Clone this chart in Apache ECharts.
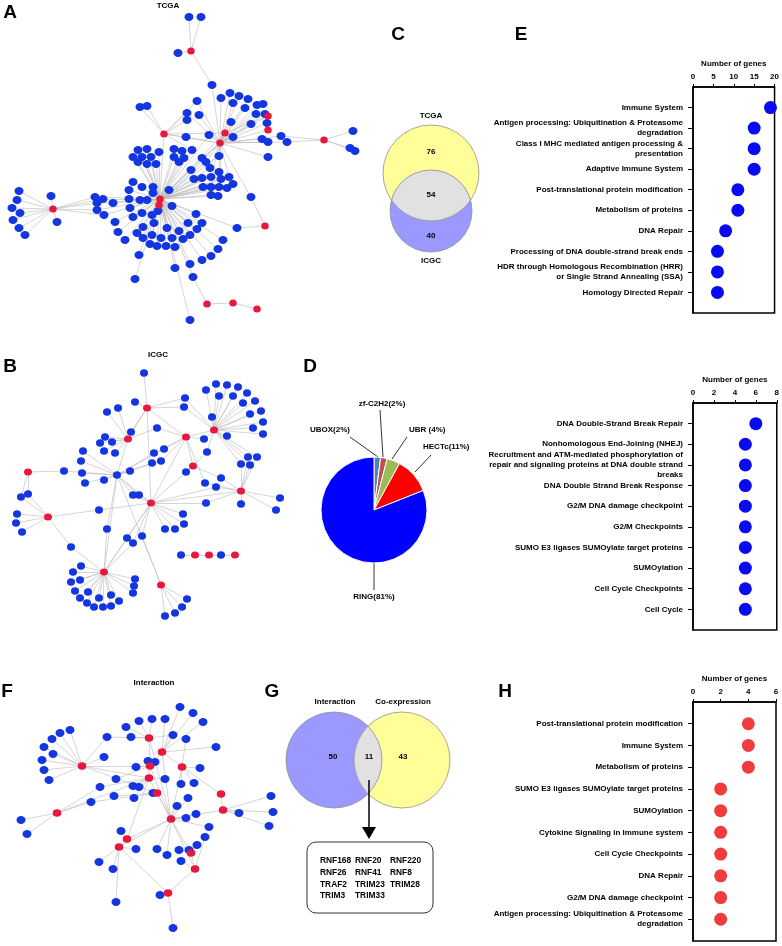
<!DOCTYPE html>
<html><head><meta charset="utf-8">
<script src="https://cdn.jsdelivr.net/npm/echarts@6/dist/echarts.min.js"></script>
<style>html,body{margin:0;padding:0;background:#fff}#c{width:782px;height:946px}</style>
</head><body><div id="c"></div>
<script>
// ---------------- DATA ----------------
// Network A (TCGA): hubs [x, y, isE3], leaves [x, y, hub indices...]
const hubsA = [[160,199,1],[159,205,1],[220,143,1],[225,133,1],[164,134,1],[191,51,1],[53,209,1],[265,226,1],[207,304,1],[233,303,1],[257,309,1],[268,116,1],[268,130,1],[324,140,1]];
const hubLinksA = [[0,1],[0,2],[0,3],[0,4],[1,2],[2,3],[2,4],[3,4],[2,11],[2,12],[3,11],[8,9],[9,10]];
const leavesA = [
 [189,17,5],[201,17,5],[178,53,5],[212,85,5,2],
 [140,107,4],[147,106,4],[187,113,4,2],[187,120,4],[186,137,4,2],[197,101,4,2],
 [221,98,2],[230,93,2],[239,96,2],[248,99,2],[233,103,2],[245,108,2],[257,105,2],[263,104,2],[256,114,2],[265,114,2],[267,123,2],[251,124,2],[231,122,2],[199,115,2],[209,135,2,0],[233,137,2],[262,139,2],[268,142,2],[268,157,2],[219,156,2,0],
 [281,136,2,13],[287,142,2,13],[353,131,13],[350,148,13],[355,151,13],
 [138,150,0],[147,149,0],[133,157,0],[142,157,0],[151,157,0],[159,152,0],[138,162,0],[147,164,0],[156,164,0],
 [174,149,0],[182,151,0],[192,150,0,4],[174,157,0],[184,158,0],[179,162,0],[202,158,0,2],
 [206,162,0,2],[210,168,0,2],[191,170,0],[202,178,0],[194,179,0],[211,177,0,2],[219,172,0,2],
 [221,179,0,2],[229,177,0,2],[233,184,0],[227,188,0],[219,187,0],[211,187,0],[203,187,0],[211,195,0],[218,196,0],
 [133,182,0],[129,190,0],[142,187,0],[153,187,0],[169,190,0],[153,193,0],
 [129,199,0],[140,200,0],[130,208,0],[172,206,0],[147,200,0],[142,213,0],[133,217,0],[158,211,0],[152,215,0],[196,214,0],
 [115,222,0],[113,203,0],[104,215,0,6],[95,197,0,6],[97,203,0,6],[97,210,0,6],[103,199,0,6],
 [118,232,0],[125,240,0],[143,227,0],[137,233,0],[143,238,0],[154,223,0],[152,235,0],[150,244,0],[157,246,0],[166,246,0],[161,238,0],[167,228,0],[172,238,0],[175,247,0],[179,231,0],[183,239,0],[190,235,0],[197,229,0],[188,223,0],[202,223,0],
 [223,240,0],[218,249,0],[211,256,0],[202,260,0],[190,264,0],[193,277,0,8],[175,268,0],[139,255,0],[135,279,0],[190,320,0],
 [237,228,0,7],[251,197,2,7],
 [19,191,6],[17,200,6],[12,208,6],[20,213,6],[13,220,6],[19,228,6],[25,235,6],[51,196,6],[57,222,6]
];
// Network B (ICGC)
const hubsB = [[147,408,1],[128,439,1],[186,437,1],[214,430,1],[193,466,1],[28,472,1],[151,503,1],[241,491,1],[48,517,1],[104,572,1],[161,585,1],[195,555,1],[209,555,1],[235,555,1],[117,475,0]];
const hubLinksB = [[0,1],[0,6],[1,14],[14,6],[14,9],[14,10],[2,4],[2,3],[4,6],[6,7],[6,9],[6,2],[11,12],[0,2]];
const leavesB = [
 [144,373,0],[135,402,0],[185,398,0,3],[184,407,0,3],[157,428,1,2],[107,412,1],[118,408,1],[131,432,1,0],
 [105,437,1],[100,443,1],[112,442,1],[104,451,1],[115,453,1],
 [83,451,14],[81,461,14],[82,473,14],[85,483,14],[104,480,14],[64,471,14,5],[130,471,14],[154,453,14,2],[152,463,14],[161,461,14,2],[164,449,14,2],[133,495,14,6],[139,495,14,6],
 [206,390,3],[216,384,3],[227,385,3],[238,387,3],[247,393,3],[255,401,3],[261,411,3],[263,422,3],[263,434,3],[253,428,3],[250,414,3],[243,403,3],[233,396,3],[219,396,3],[212,417,3],[227,436,3],[204,439,3,2],[207,452,3,4],
 [248,457,7,3],[257,457,7,3],[241,464,7,3],[250,465,7,3],[241,504,7],[280,498,7],[276,510,7],[221,478,7,4],[216,487,7,6],[205,483,7,2],
 [186,472,4],
 [206,503,6,7],[183,514,6],[184,524,6],[175,529,6],[165,529,6],[142,536,6,10],[127,538,6,9],[133,543,6,9],[99,510,6,8],[107,529,14,9],
 [21,497,8,5],[28,494,8,5],[17,514,8],[16,523,8],[22,532,8],[71,547,8,9],
 [81,566,9],[73,572,9],[71,582,9],[75,591,9],[80,598,9],[87,603,9],[94,607,9],[103,607,9],[111,606,9],[119,601,9],[111,595,9],[99,598,9],[88,592,9],[80,580,9],[135,579,9],[134,586,9],[133,593,9],
 [187,599,10],[182,607,10],[175,613,10],[165,616,10],
 [181,555,11],[221,555,12,13]
];
// Network F (Interaction)
const hubsF = [[82,766,1],[57,813,1],[149,738,1],[162,752,1],[150,766,1],[182,767,1],[149,778,1],[157,793,1],[221,794,1],[223,810,1],[171,819,1],[127,839,1],[119,847,1],[191,853,1],[195,869,1],[168,893,1]];
const hubLinksF = [[0,6],[0,7],[0,4],[1,6],[2,4],[3,4],[3,5],[3,10],[4,6],[4,10],[5,8],[5,10],[6,10],[6,11],[7,10],[8,9],[9,10],[10,11],[10,12],[10,13],[10,14],[11,12],[12,15],[13,14],[14,15],[2,10]];
const leavesF = [
 [70,730,0],[60,733,0],[52,739,0],[44,747,0],[53,754,0],[42,760,0],[44,770,0],[49,780,0],[104,757,0],[107,737,0,2],
 [21,820,1],[27,834,1],[91,802,1,7],[100,787,1,6],
 [180,707,3],[193,713,3],[203,722,3],[139,721,2],[152,719,2],[165,719,3],[126,727,2],[131,737,2],[173,735,3,2],[186,739,5],[216,747,3],
 [148,761,4],[155,762,4],[136,767,4],[116,779,4],[133,786,6],[139,787,6],[114,796,7],[134,798,6],[153,793,7],[165,779,6],[181,784,5],[194,783,5],[200,768,5],
 [177,806,10],[188,798,10],[196,814,10],[186,818,10],[209,827,10],[205,837,14],[121,831,11],[136,849,12],[157,849,10],[167,855,10],[179,850,13],[189,850,13],[197,845,13],[181,861,14],
 [99,862,12],[113,869,12],[160,895,15],[116,902,12],[173,928,15],
 [239,813,9],[271,796,9],[273,812,9],[269,826,9]
];
const netTitles = ['TCGA', 'ICGC', 'Interaction'];

// Venn C / G
const vennCSets = ['TCGA', 'ICGC'];
const vennCCounts = [76, 54, 40];
const vennGSets = ['Interaction', 'Co-expression'];
const vennGCounts = [50, 11, 43];
const sharedGenes = ['RNF168','RNF20','RNF220','RNF26','RNF41','RNF8','TRAF2','TRIM23','TRIM28','TRIM3','TRIM33'];

// Pie D
const pieNames = ['UBOX', 'zf-C2H2', 'UBR', 'HECTc', 'RING'];
const pieValues = [2, 2, 4, 11, 81];
const pieLabels = ['UBOX(2%)', 'zf-C2H2(2%)', 'UBR (4%)', 'HECTc(11%)', 'RING(81%)'];

// Dot plots
const eCats = ['Immune System','Antigen processing: Ubiquitination & Proteasome\ndegradation','Class I MHC mediated antigen processing &\npresentation','Adaptive Immune System','Post-translational protein modification','Metabolism of proteins','DNA Repair','Processing of DNA double-strand break ends','HDR through Homologous Recombination (HRR)\nor Single Strand Annealing (SSA)','Homology Directed Repair'];
const eVals = [19,15,15,15,11,11,8,6,6,6];
const e2Cats = ['DNA Double-Strand Break Repair','Nonhomologous End-Joining (NHEJ)','Recruitment and ATM-mediated phosphorylation of\nrepair and signaling proteins at DNA double strand\nbreaks','DNA Double Strand Break Response','G2/M DNA damage checkpoint','G2/M Checkpoints','SUMO E3 ligases SUMOylate target proteins','SUMOylation','Cell Cycle Checkpoints','Cell Cycle'];
const e2Vals = [6,5,5,5,5,5,5,5,5,5];
const hCats = ['Post-translational protein modification','Immune System','Metabolism of proteins','SUMO E3 ligases SUMOylate target proteins','SUMOylation','Cytokine Signaling in Immune system','Cell Cycle Checkpoints','DNA Repair','G2/M DNA damage checkpoint','Antigen processing: Ubiquitination & Proteasome\ndegradation'];
const hVals = [4,4,4,2,2,2,2,2,2,2];
const xMaxE = 20, xStepE = 5, xMaxE2 = 8, xStepE2 = 2, xMaxH = 6, xStepH = 2;

// ---------------- STYLE / BUILD ----------------
const FONT = '"Liberation Sans", Arial, Helvetica, sans-serif';
const BLUE = '#1336e0', RED = '#e8173c';

function buildNet(hubs, leaves, hubLinks, blueSize, redSize) {
  const nodes = [], links = [];
  leaves.forEach(l => nodes.push({value:[l[0], l[1]], symbolSize: blueSize, itemStyle:{color: BLUE}}));
  const off = leaves.length;
  hubs.forEach(h => nodes.push({value:[h[0], h[1]], symbolSize: h[2] ? redSize : blueSize, itemStyle:{color: h[2] ? RED : BLUE}}));
  leaves.forEach((l, i) => { for (let k = 2; k < l.length; k++) links.push({source: i, target: off + l[k]}); });
  hubLinks.forEach(p => links.push({source: off + p[0], target: off + p[1]}));
  return {
    type:'graph', coordinateSystem:'cartesian2d', xAxisIndex:0, yAxisIndex:0,
    layout:'none', symbol:'circle', data: nodes, links: links, silent:true,
    lineStyle:{color:'#b9b9b9', width:0.6, opacity:1, curveness:0},
    label:{show:false}, emphasis:{disabled:true}, z:2
  };
}

const gfx = [];
function txt(x, y, s, size, align, weight) {
  gfx.push({type:'text', x:x, y:y, silent:true, z:10,
    style:{text:s, font:(weight||'bold') + ' ' + size + 'px ' + FONT, fill:'#000',
      textAlign: align || 'center', align: align || 'center', textVerticalAlign:'middle', verticalAlign:'middle'}});
}
function lensPoints(c1, c2) {
  const pts = [], N = 720;
  for (let i = 0; i < N; i++) {
    const a = 2*Math.PI*i/N;
    const p1 = [c1[0] + c1[2]*Math.cos(a), c1[1] + c1[2]*Math.sin(a)];
    if (Math.hypot(p1[0]-c2[0], p1[1]-c2[1]) <= c2[2]) pts.push(p1);
    const p2 = [c2[0] + c2[2]*Math.cos(a), c2[1] + c2[2]*Math.sin(a)];
    if (Math.hypot(p2[0]-c1[0], p2[1]-c1[1]) <= c1[2]) pts.push(p2);
  }
  const cx = pts.reduce((s,p)=>s+p[0],0)/pts.length, cy = pts.reduce((s,p)=>s+p[1],0)/pts.length;
  pts.sort((p,q)=>Math.atan2(p[1]-cy,p[0]-cx)-Math.atan2(q[1]-cy,q[0]-cx));
  return pts;
}
function venn(cA, colA, cB, colB) {
  gfx.push({type:'circle', shape:{cx:cA[0], cy:cA[1], r:cA[2]}, style:{fill:colA}, silent:true, z:5});
  gfx.push({type:'circle', shape:{cx:cB[0], cy:cB[1], r:cB[2]}, style:{fill:colB}, silent:true, z:5});
  gfx.push({type:'polygon', shape:{points: lensPoints(cA, cB)}, style:{fill:'#e1e1e1'}, silent:true, z:6});
  gfx.push({type:'circle', shape:{cx:cA[0], cy:cA[1], r:cA[2]}, style:{fill:'none', stroke:'#8f8f8f', lineWidth:0.8}, silent:true, z:7});
  gfx.push({type:'circle', shape:{cx:cB[0], cy:cB[1], r:cB[2]}, style:{fill:'none', stroke:'#8f8f8f', lineWidth:0.8}, silent:true, z:7});
}

// panel letters
[['A',10,13],['B',10,367],['C',398,35],['D',310,367],['E',521,35],['F',7,692],['G',272,692],['H',505,692]]
  .forEach(l => txt(l[1], l[2], l[0], 19, 'center'));
// network titles
txt(168, 6, netTitles[0], 8); txt(158, 355, netTitles[1], 8); txt(154, 683, netTitles[2], 8);

// Venn C
venn([431,173,48], '#ffff99', [431,211,41], '#9999ff');
txt(431, 116, vennCSets[0], 8); txt(431, 261, vennCSets[1], 8);
txt(431, 152, String(vennCCounts[0]), 8); txt(431, 195, String(vennCCounts[1]), 8); txt(431, 236, String(vennCCounts[2]), 8);
// Venn G
venn([334,760,48], '#9999ff', [402,760,48], '#ffff99');
txt(335, 702, vennGSets[0], 8); txt(403, 702, vennGSets[1], 8);
txt(333, 757, String(vennGCounts[0]), 8); txt(369, 757, String(vennGCounts[1]), 8); txt(403, 757, String(vennGCounts[2]), 8);
gfx.push({type:'line', shape:{x1:369, y1:780, x2:369, y2:829}, style:{stroke:'#000', lineWidth:1.5}, silent:true, z:10});
gfx.push({type:'polygon', shape:{points:[[362,827],[376,827],[369,839]]}, style:{fill:'#000'}, silent:true, z:10});
gfx.push({type:'rect', shape:{x:307, y:842, width:126, height:71, r:9}, style:{fill:'none', stroke:'#333', lineWidth:1}, silent:true, z:10});
sharedGenes.forEach((gname, i) => {
  const col = i % 3, row = Math.floor(i / 3);
  txt(320 + col*35, 861 + row*11.6, gname, 8.4, 'left');
});

// dot plot helpers
function pad(c) { return [' '].concat(c, ['  ']); }
function xAx(gi, max, step) {
  return {gridIndex:gi, type:'value', position:'top', min:0, max:max, interval:step,
    name:'Number of genes', nameLocation:'middle', nameGap:19,
    nameTextStyle:{fontFamily:FONT, fontWeight:'bold', fontSize:8, color:'#000'},
    axisLine:{show:true, lineStyle:{color:'#000', width:1.5}},
    axisTick:{show:true, length:3, lineStyle:{color:'#000', width:1}},
    axisLabel:{fontFamily:FONT, fontWeight:'bold', fontSize:8, color:'#000', margin:6},
    splitLine:{show:false}};
}
function yAx(gi, cats) {
  const n = cats.length + 2;
  return {gridIndex:gi, type:'category', inverse:true, boundaryGap:false, data: pad(cats),
    axisLine:{show:true, lineStyle:{color:'#000', width:1.5}},
    axisTick:{show:true, length:5, interval:(idx) => idx > 0 && idx < n-1, lineStyle:{color:'#000', width:1}},
    axisLabel:{interval:0, fontFamily:FONT, fontWeight:'bold', fontSize:8, lineHeight:10, color:'#000', margin:10, align:'right'},
    splitLine:{show:false}};
}
function dots(gi, vals, color) {
  return {type:'scatter', xAxisIndex:gi, yAxisIndex:gi, symbolSize:13, silent:true,
    itemStyle:{color:color, opacity:1}, data: vals.map((v, i) => [v, i+1]), z:3};
}

const pieLabelPlace = [
  {x:350, y:430, align:'right', end:[350,437], start:[378,457]},
  {x:382, y:404, align:'center', end:[380,410], start:[383,457]},
  {x:409, y:430, align:'left', end:[407,437], start:[392,459]},
  {x:423, y:447, align:'left', end:[431,455], start:[415,472]},
  {x:374, y:597, align:'center', end:[374,590], start:[374,563]}
];

const option = {
  animation:false,
  backgroundColor:'#fff',
  textStyle:{fontFamily:FONT},
  grid:[
    {left:0, top:0, width:370, height:946, show:false},
    {left:693, top:87, width:83, height:226, show:true, borderColor:'#000', borderWidth:1.5, backgroundColor:'transparent'},
    {left:693, top:403, width:84, height:227, show:true, borderColor:'#000', borderWidth:1.5, backgroundColor:'transparent'},
    {left:693, top:702, width:83, height:240, show:true, borderColor:'#000', borderWidth:1.5, backgroundColor:'transparent'}
  ],
  xAxis:[
    {gridIndex:0, type:'value', min:0, max:370, show:false},
    xAx(1, xMaxE, xStepE), xAx(2, xMaxE2, xStepE2), xAx(3, xMaxH, xStepH)
  ],
  yAxis:[
    {gridIndex:0, type:'value', min:0, max:946, inverse:true, show:false},
    yAx(1, eCats), yAx(2, e2Cats), yAx(3, hCats)
  ],
  graphic:{elements:gfx},
  series:[
    buildNet(hubsA, leavesA, hubLinksA, [9,8], [7.5,7]),
    buildNet(hubsB, leavesB, hubLinksB, [8,7.5], [8,7]),
    buildNet(hubsF, leavesF, hubLinksF, [9,8], [8.5,7.5]),
    dots(1, eVals, '#0a0af0'),
    dots(2, e2Vals, '#0a0af0'),
    dots(3, hVals, '#f03c3c'),
    {type:'pie', center:[374,510], radius:53, startAngle:90, clockwise:true, silent:true,
     itemStyle:{borderColor:'#fff', borderWidth:1},
     color:['#4f81bd','#c0504d','#9bbb59','#ff0000','#0000ff'],
     data: pieNames.map((n, i) => ({name:n, value:pieValues[i]})),
     label:{show:true, position:'outside', formatter:(p) => pieLabels[p.dataIndex], fontFamily:FONT, fontWeight:'bold', fontSize:8, color:'#000'},
     labelLine:{show:true, length:10, length2:10, lineStyle:{color:'#000', width:0.8}},
     labelLayout:(p) => { const q = pieLabelPlace[p.dataIndex]; return {x:q.x, y:q.y, align:q.align, verticalAlign:'middle', labelLinePoints:[q.start, q.end, q.end]}; }
    }
  ]
};
const chart = echarts.init(document.getElementById('c'), null, {renderer:'canvas'});
chart.setOption(option);
</script>
</body></html>
